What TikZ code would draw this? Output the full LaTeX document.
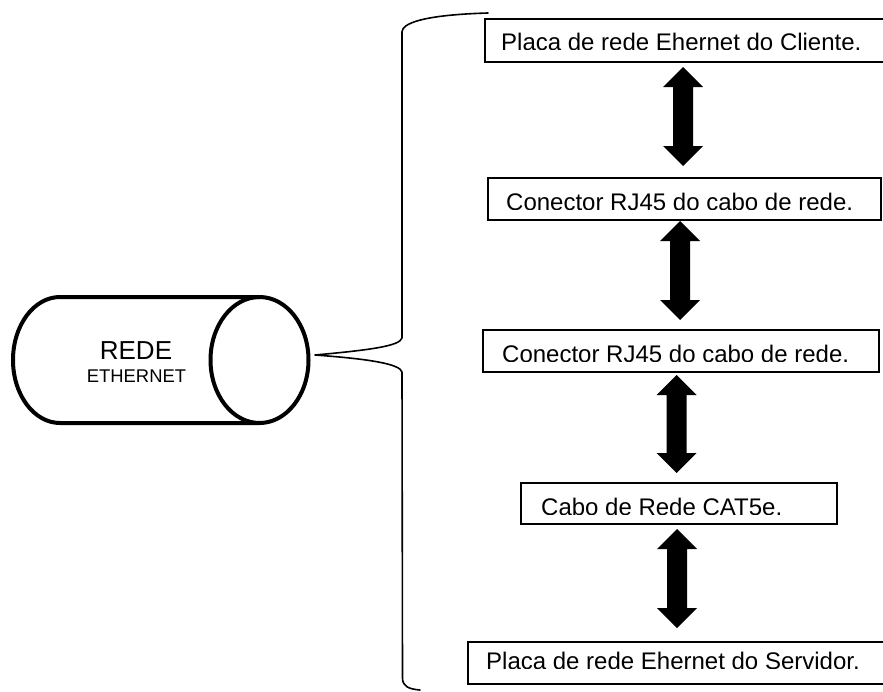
\documentclass[tikz,border=0pt]{standalone}
\usepackage{fontspec}
\setmainfont{Liberation Sans}
\usetikzlibrary{calc}

% double-headed block arrow between two named points (top tip, bottom tip)
\newcommand\blockarrow[2]{%
  \fill[arrowfill] (#1) -- ($(#1)+(20,20)$) -- ($(#1)+(10,20)$)
    -- ($(#2)+(10,-20)$) -- ($(#2)+(20,-20)$) -- (#2)
    -- ($(#2)+(-20,-20)$) -- ($(#2)+(-10,-20)$)
    -- ($(#1)+(-10,20)$) -- ($(#1)+(-20,20)$) -- cycle;}

\begin{document}
\begin{tikzpicture}[x=1pt,y=-1pt,
  cyl/.style={line width=4pt, line join=round},
  bracepath/.style={line width=1.6pt, line cap=round, line join=round},
  stepbox/.style={draw, line width=1.6pt, rectangle, inner sep=0pt, anchor=north west},
  steplabel/.style={anchor=base west, inner sep=0pt, font=\fontsize{24}{28}\selectfont},
  arrowfill/.style={fill=black},
]
\useasboundingbox (0,0) rectangle (883,691);
\clip (0,0) rectangle (883,691);

% network cylinder
\draw[cyl] (259.5,297) -- (60,297)
  arc[start angle=270, end angle=90, x radius=47, y radius=63] -- (259.5,423);
\draw[cyl] (259.5,360) ellipse[x radius=49, y radius=63];
\node[anchor=base, inner sep=0pt, font=\fontsize{26}{30}\selectfont] (rede) at (136,359) {REDE};
\node[anchor=base, inner sep=0pt, font=\fontsize{18.4}{22}\selectfont] (eth) at (136.5,382) {ETHERNET};

% curly brace grouping the chain
\coordinate (tip) at (315,355);
\coordinate (btop) at (488,13);
\coordinate (bbot) at (420,690);
\draw[bracepath] (btop) .. controls (420,15) and (402,24) .. (402,32)
  -- (402,338) .. controls (400,346) and (370,350) .. (tip)
  .. controls (370,359) and (400,364) .. (402,372)
  -- (402.5,678) .. controls (402.5,686) and (408,689) .. (bbot);

% boxes of the chain
\node[stepbox, minimum width=416pt, minimum height=43pt] (b1) at (484,18) {};
\node[stepbox, minimum width=393pt, minimum height=42pt] (b2) at (487,177) {};
\node[stepbox, minimum width=396pt, minimum height=42pt] (b3) at (482,329) {};
\node[stepbox, minimum width=316pt, minimum height=41pt] (b4) at (520,482) {};
\node[stepbox, minimum width=433pt, minimum height=42pt] (b5) at (467,641) {};

% box texts, cut off along the baseline
\begin{scope}
  \clip (484,18) rectangle (883,49.3);
  \node[steplabel] (t1) at (501,50.2) {Placa de rede Ehernet do Cliente.};
\end{scope}
\begin{scope}
  \clip (487,177) rectangle (883,209.3);
  \node[steplabel] (t2) at (506,210.2) {Conector RJ45 do cabo de rede.};
\end{scope}
\begin{scope}
  \clip (482,329) rectangle (883,361.3);
  \node[steplabel] (t3) at (502,362.2) {Conector RJ45 do cabo de rede.};
\end{scope}
\begin{scope}
  \clip (520,482) rectangle (883,514);
  \node[steplabel] (t4) at (541,515.2) {Cabo de Rede CAT5e.};
\end{scope}
\begin{scope}
  \clip (467,641) rectangle (883,668.3);
  \node[steplabel] (t5) at (486,669.2) {Placa de rede Ehernet do Servidor.};
\end{scope}

% double arrows between consecutive boxes
\coordinate (a1t) at (683,67);   \coordinate (a1b) at (683,166);
\coordinate (a2t) at (680,221);  \coordinate (a2b) at (680,320);
\coordinate (a3t) at (676.5,375);\coordinate (a3b) at (676.5,473);
\coordinate (a4t) at (677,529);  \coordinate (a4b) at (677,628);
\blockarrow{a1t}{a1b}
\blockarrow{a2t}{a2b}
\blockarrow{a3t}{a3b}
\blockarrow{a4t}{a4b}
\end{tikzpicture}
\end{document}
